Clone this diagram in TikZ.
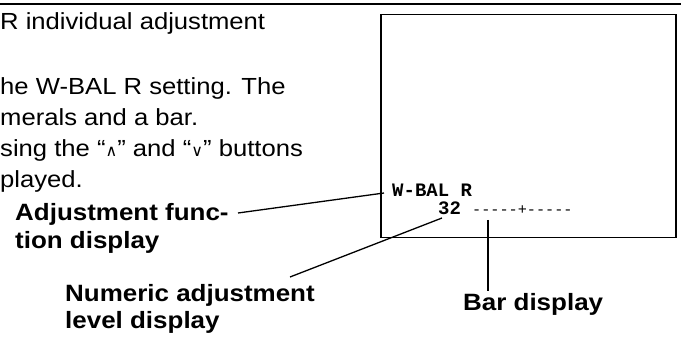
\documentclass[tikz,border=0pt]{standalone}
\usepackage{fontspec}
\setmainfont[FakeStretch=1.1]{Liberation Sans}
\newfontfamily\lcdfont{Liberation Mono}
\newfontfamily\symfont{DejaVu Sans}
\begin{document}
\begin{tikzpicture}[x=1pt,y=-1pt,
  body/.style={anchor=base west,inner sep=0pt,font=\fontsize{23.3}{28}\selectfont},
  lbl/.style={anchor=base west,inner sep=0pt,font=\fontsize{23.6}{28}\selectfont\bfseries},
  lcd/.style={anchor=base west,inner sep=0pt,font=\lcdfont\bfseries\fontsize{19}{20}\selectfont},
  lcdbar/.style={anchor=base west,inner sep=0pt,font=\lcdfont\fontsize{15.2}{16}\selectfont},
  leader/.style={line width=1.3pt,black},
  screen/.style={draw,line width=1.5pt}]
\useasboundingbox (0,0) rectangle (681,339);
\clip (0,0) rectangle (681,339);
% top rule
\coordinate (rl) at (0,4);
\coordinate (rr) at (681,4);
\draw[line width=1.8pt] (rl) -- (rr);
% body text (cut at left edge)
\node[body] (t1) at (0,30) {R individual adjustment};
\node[body] (t2) at (0,95) {he W-BAL R setting. The};
\node[body] (t3) at (0,126) {merals and a bar.};
\node[body] (t4) at (0,157) {sing the “{\symfont\fontsize{16}{16}\selectfont ∧}” and “{\symfont\fontsize{16}{16}\selectfont ∨}” buttons};
\node[body] (t5) at (0,188) {played.};
% screen
\node[screen,inner sep=0pt,minimum width=295pt,minimum height=223pt,anchor=north west] (scr) at (380,14) {};
\node[lcd] (wb) at (392,197) {W-BAL R};
\node[lcd] (num) at (438,215) {32};
\node[lcdbar] (bar) at (472,215) {-----+-----};
% labels
\node[lbl] (a1) at (15,221) {Adjustment func-};
\node[lbl] (a2) at (15,249) {tion display};
\node[lbl] (n1) at (65,302) {Numeric adjustment};
\node[lbl] (n2) at (65,329) {level display};
\node[lbl] (b1) at (463,311) {Bar display};
% leaders
\coordinate (la) at (238,213);
\coordinate (lb) at (384,193);
\draw[leader] (la) -- (lb);
\coordinate (na) at (290,277);
\coordinate (nb) at (442,218);
\draw[leader] (na) -- (nb);
\coordinate (ba) at (488,220);
\coordinate (bb) at (488,291);
\draw[leader] (ba) -- (bb);
\end{tikzpicture}
\end{document}
